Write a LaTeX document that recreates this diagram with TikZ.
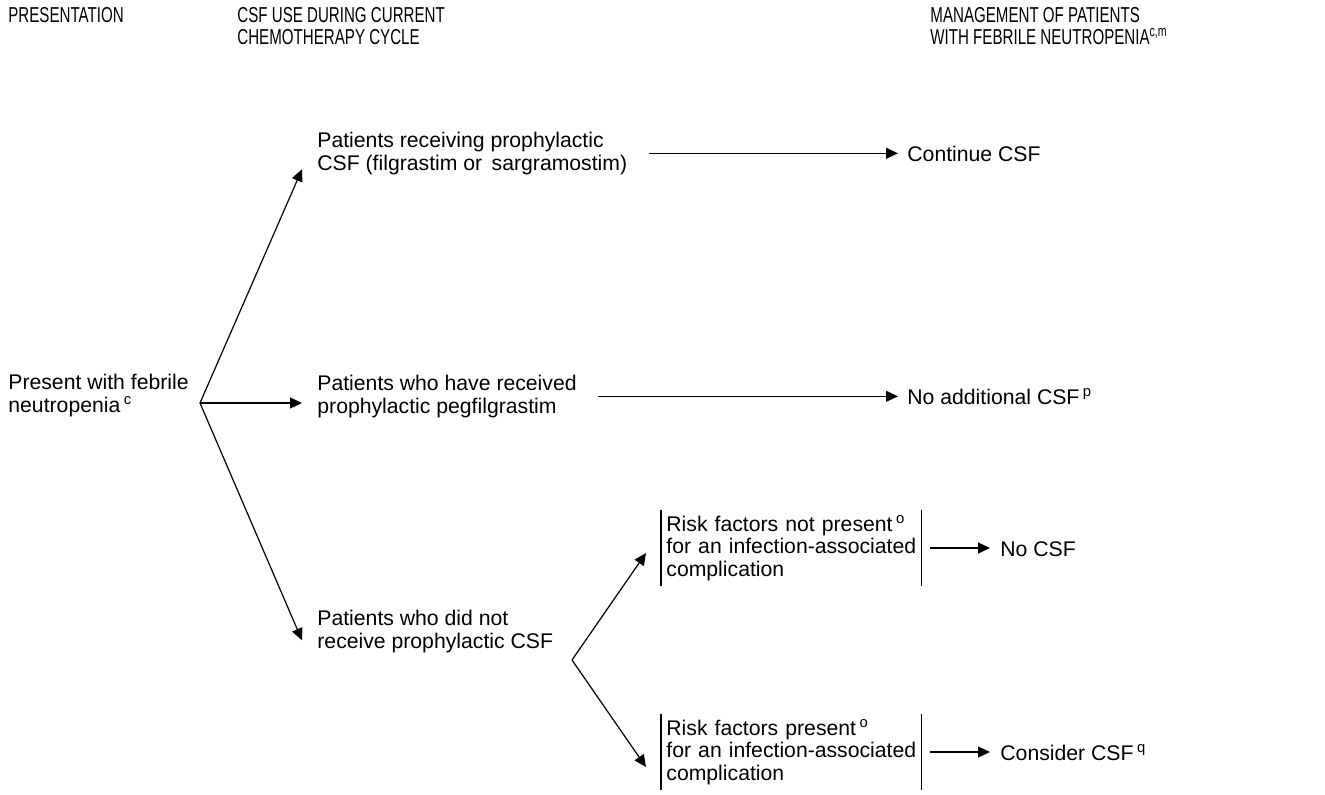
\documentclass[tikz,border=0pt]{standalone}
\usepackage{fontspec}
\setmainfont{Liberation Sans}
\newfontfamily\headfont[FakeStretch=0.7]{Liberation Sans}
\usepackage{tikz}
\usetikzlibrary{arrows.meta,calc}

\begin{document}
\begin{tikzpicture}[x=0.5pt,y=-0.5pt,
  txt/.style={anchor=base west,inner sep=0pt,align=left,font=\fontsize{10.6}{11.2}\selectfont},
  head/.style={txt,font=\fontsize{10.8}{11}\selectfont\headfont},
  rbox/.style={txt,anchor=west,text width=125pt,inner xsep=2.5pt,minimum height=38pt},
  arr/.style={-{Triangle[length=6pt,width=5.5pt]},line width=0.6pt},
  bar/.style={line width=0.6pt}]
\useasboundingbox (0,0) rectangle (1325,794);

\path (8,22) node[head] (hpres) {PRESENTATION};
\path (237,44) node[head] (hcsf) {CSF USE DURING CURRENT\\CHEMOTHERAPY CYCLE};
\path (930,44) node[head] (hman) {MANAGEMENT OF PATIENTS\\WITH FEBRILE NEUTROPENIA\textsuperscript{c,m}};

\path (8,412) node[txt] (pres) {Present with febrile\\neutropenia\,\textsuperscript{c}};
\path (317,170) node[txt] (rec) {Patients receiving prophylactic\\CSF (filgrastim or\ \,sargramostim)};
\path (317,413) node[txt] (peg) {Patients who have received\\prophylactic pegfilgrastim};
\path (317,648) node[txt] (dnr) {Patients who did not\\receive prophylactic CSF};
\path (661,548) node[rbox] (nrisk) {Risk factors not present\,\textsuperscript{o}\\for an infection-associated\\complication};
\path (661,752) node[rbox] (yrisk) {Risk factors present\,\textsuperscript{o}\\for an infection-associated\\complication};

\path (907,161) node[txt] (cont) {Continue CSF};
\path (907,404) node[txt] (noadd) {No additional CSF\,\textsuperscript{p}};
\path (1000,556) node[txt] (nocsf) {No CSF};
\path (1000,760) node[txt] (cons) {Consider CSF\,\textsuperscript{q}};

\coordinate (f1) at (200,403);
\coordinate (f2) at (572,660);

\draw[arr] (f1) -- ($(rec.west)+(-15,16)$);
\draw[arr] (f1) -- ($(f1 -| peg.west)+(-15,0)$);
\draw[arr] (f1) -- ($(dnr.west)+(-15,9)$);
\draw[arr] (f2) -- ($(nrisk.west)+(-15,5)$);
\draw[arr] (f2) -- ($(yrisk.west)+(-15,15)$);

\draw[arr,shorten <=10.5pt,shorten >=4.5pt] (rec.east) -- (rec.east -| cont.west);
\draw[arr,shorten <=10.5pt,shorten >=4.5pt] (peg.east) -- (peg.east -| noadd.west);
\draw[arr,shorten <=4pt,shorten >=5pt] (nrisk.east) -- (nrisk.east -| nocsf.west);
\draw[arr,shorten <=4pt,shorten >=5pt] (yrisk.east) -- (yrisk.east -| cons.west);

\draw[bar] (nrisk.north west) -- (nrisk.south west) (nrisk.north east) -- (nrisk.south east);
\draw[bar] (yrisk.north west) -- (yrisk.south west) (yrisk.north east) -- (yrisk.south east);
\end{tikzpicture}
\end{document}
